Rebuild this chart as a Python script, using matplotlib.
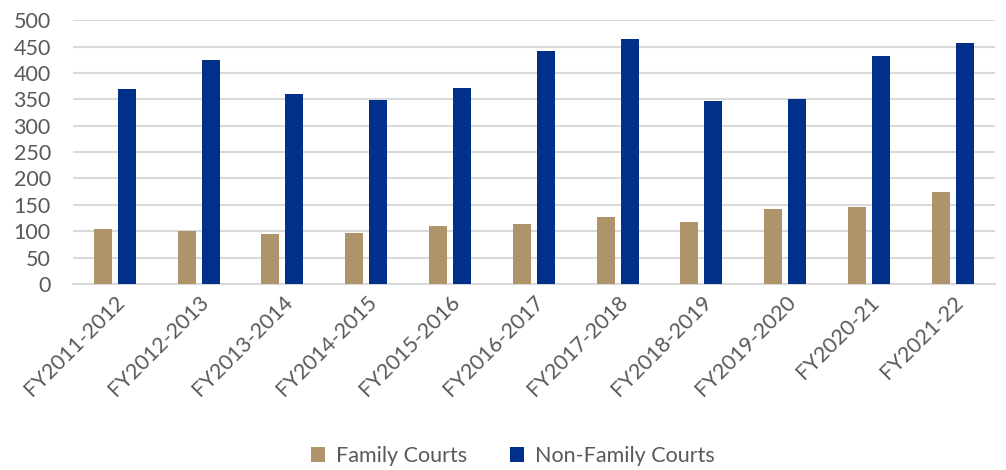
import numpy as np
import matplotlib.pyplot as plt

# Значения с графика
years = ["FY2011-2012", "FY2012-2013", "FY2013-2014", "FY2014-2015", "FY2015-2016",
         "FY2016-2017", "FY2017-2018", "FY2018-2019", "FY2019-2020", "FY2020-21",
         "FY2021-22"]
family = [104, 100, 95, 96, 110, 114, 127, 117, 142, 146, 174]
non_family = [370, 424, 360, 349, 371, 441, 465, 347, 350, 432, 457]

plt.rcParams['font.family'] = ['Lato', 'DejaVu Sans']

fig = plt.figure(figsize=(10.06, 4.70), dpi=100)
ax = fig.add_axes([0.0726, 0.396, 0.916, 0.561])

x = np.arange(len(years))
w = 0.215
ax.bar(x - 0.143, family, w, color='#AF936B', label='Family Courts', zorder=3)
ax.bar(x + 0.143, non_family, w, color='#00308A', label='Non-Family Courts', zorder=3)

ax.set_ylim(0, 500)
ax.set_xlim(-0.5, len(years) - 0.5)
ax.set_yticks(np.arange(0, 501, 50))
ax.grid(axis='y', color='#d9d9d9', linewidth=1.5, zorder=0)
for s in ['top', 'right', 'left']:
    ax.spines[s].set_visible(False)
ax.spines['bottom'].set_color('#d9d9d9')
ax.spines['bottom'].set_linewidth(1.5)
ax.tick_params(length=0, labelsize=15.5, colors='#595959')
ax.tick_params(axis='y', pad=16)
ax.tick_params(axis='x', pad=6)
ax.set_xticks(x)
ax.set_xticklabels(years, rotation=45, ha='right', rotation_mode='anchor')

fig.legend(loc='center', bbox_to_anchor=(0.51, 0.03), ncol=2, frameon=False,
           fontsize=15.5, labelcolor='#595959', handlelength=0.65, handleheight=0.65,
           columnspacing=2.0, handletextpad=0.5)

plt.savefig("out.png", dpi=100)
